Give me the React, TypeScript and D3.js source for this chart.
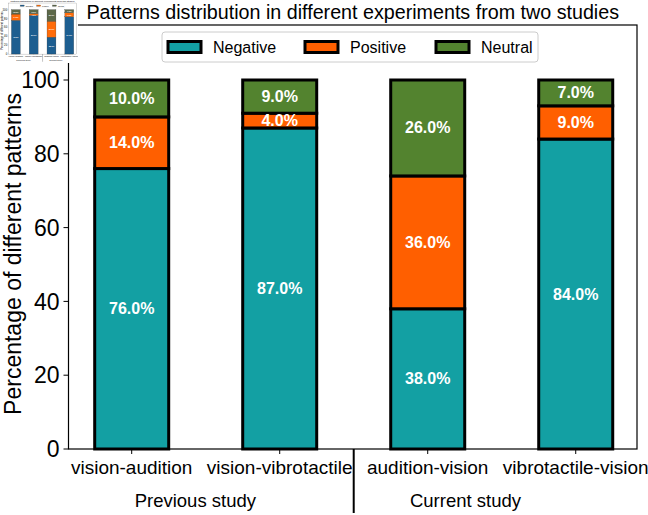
import React from "react";
import * as d3 from "d3";

const categories = [
  "vision-audition",
  "vision-vibrotactile",
  "audition-vision",
  "vibrotactile-vision",
];
const negative = [76, 87, 38, 84];
const positive = [14, 4, 36, 9];
const neutral = [10, 9, 26, 7];
const seriesNames = ["Negative", "Positive", "Neutral"];
const yTicks = [0, 20, 40, 60, 80, 100];
const groups = [
  { name: "Previous study", at: 0.43 },
  { name: "Current study", at: 2.255 },
];

const mainColors = ["#13a0a3", "#ff5f00", "#53832f"];
const thumbColors = ["#1d5e90", "#ff6c0a", "#5c6849"];

const W = 648;
const H = 515;
const FONT = "'Liberation Sans', Arial, Helvetica, sans-serif";

type ChartProps = { colors: string[]; edge: string; edgeWidth: number };

const Chart = ({ colors, edge, edgeWidth }: ChartProps) => {
  const left = 68.5;
  const right = 637;
  const top = 25;
  const bottom = 449;

  const x = d3.scaleLinear().domain([-0.427, 3.414]).range([left, right]);
  const y = d3.scaleLinear().domain([0, 100]).range([bottom, 80]);

  const rows = categories.map((c, i) => ({
    cat: c,
    i,
    Negative: negative[i],
    Positive: positive[i],
    Neutral: neutral[i],
  }));
  const stacked = d3.stack<any>().keys(seriesNames)(rows);
  const barW = x(0.5) - x(0);

  return (
    <g fontFamily={FONT}>
      <text x={(left + right) / 2} y={19} textAnchor="middle" fontSize={19.7} fill="#000">
        Patterns distribution in different experiments from two studies
      </text>

      {stacked.map((s, si) =>
        s.map((d, i) => (
          <rect
            key={`${si}-${i}`}
            x={x(i) - barW / 2}
            y={y(d[1])}
            width={barW}
            height={y(d[0]) - y(d[1])}
            fill={colors[si]}
            stroke={edge}
            strokeWidth={edgeWidth}
          />
        ))
      )}
      {stacked.map((s, si) =>
        s.map((d, i) => (
          <text
            key={`l${si}-${i}`}
            x={x(i)}
            y={y((d[0] + d[1]) / 2)}
            textAnchor="middle"
            dominantBaseline="central"
            fontSize={16}
            fontWeight="bold"
            fill="#fff"
          >
            {`${(d[1] - d[0]).toFixed(1)}%`}
          </text>
        ))
      )}

      {/* axes frame */}
      <rect
        x={left}
        y={top}
        width={right - left}
        height={bottom - top}
        fill="none"
        stroke="#000"
        strokeWidth={1.2}
      />

      {yTicks.map((t) => (
        <g key={t} transform={`translate(${left},${y(t)})`}>
          <line x1={-5} x2={0} stroke="#000" strokeWidth={1} />
          <text x={-9} dy="0.36em" textAnchor="end" fontSize={23}>
            {t}
          </text>
        </g>
      ))}
      <text
        transform={`translate(21,254) rotate(-90)`}
        textAnchor="middle"
        fontSize={23}
      >
        Percentage of different patterns
      </text>

      {categories.map((c, i) => (
        <g key={c} transform={`translate(${x(i)},${bottom})`}>
          <line y1={0} y2={5} stroke="#000" strokeWidth={1} />
          <text y={25} textAnchor="middle" fontSize={19}>
            {c}
          </text>
        </g>
      ))}
      {groups.map((g) => (
        <text key={g.name} x={x(g.at)} y={507} textAnchor="middle" fontSize={18.5}>
          {g.name}
        </text>
      ))}
      <line x1={x(1.5)} x2={x(1.5)} y1={bottom} y2={513} stroke="#000" strokeWidth={2} />

      {/* legend */}
      <rect x={162} y={32} width={376} height={30} rx={3} fill="#fff" fillOpacity={0.8} stroke="#cccccc" strokeWidth={1} />
      {seriesNames.map((n, i) => {
        const lx = [168, 305, 436][i];
        return (
          <g key={n} transform={`translate(${lx},41.5)`}>
            <rect width={33} height={11} fill={colors[i]} stroke={edge} strokeWidth={edgeWidth} />
            <text x={45} y={5.5} dominantBaseline="central" fontSize={16}>
              {n}
            </text>
          </g>
        );
      })}
    </g>
  );
};

export default function App() {
  return (
    <svg width={W} height={H} style={{ display: "block", position: "absolute", left: 0, top: 0 }}>
      <rect width={W} height={H} fill="#fff" />
      <Chart colors={mainColors} edge="#000" edgeWidth={3} />
      <rect x={0} y={0} width={78} height={63} fill="#fff" />
      <svg x={0} y={0} width={78} height={62} viewBox={`0 0 ${W} ${H}`}>
        <Chart colors={thumbColors} edge="#333" edgeWidth={2} />
      </svg>
    </svg>
  );
}
